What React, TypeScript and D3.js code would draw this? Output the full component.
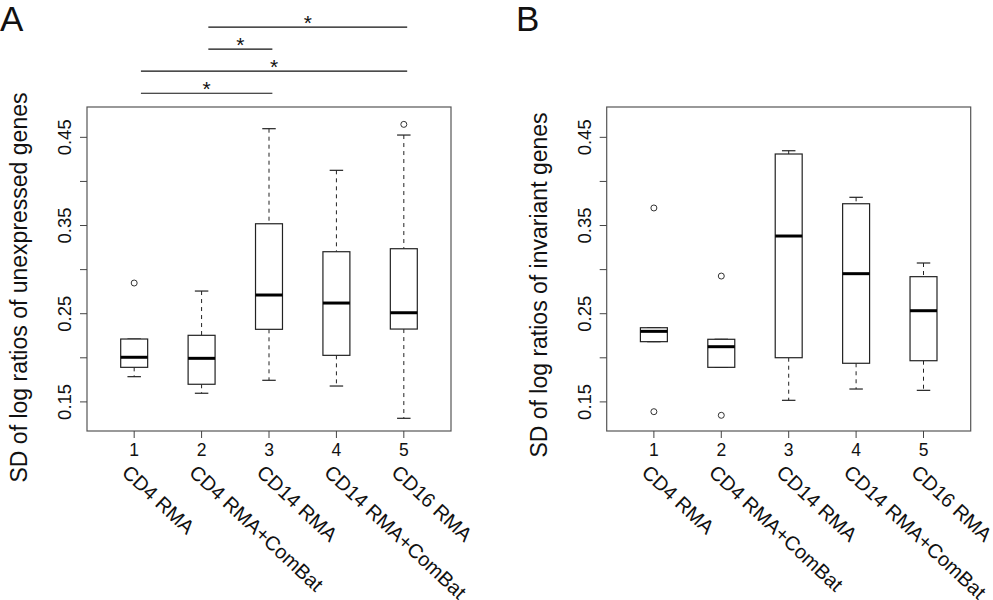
import React from "react";
import * as d3 from "d3";

// ---------- data ----------
const categories = ["CD4 RMA", "CD4 RMA+ComBat", "CD14 RMA", "CD14 RMA+ComBat", "CD16 RMA"];
const tickNumbers = ["1", "2", "3", "4", "5"];
const yTicks = [0.15, 0.2, 0.25, 0.3, 0.35, 0.4, 0.45];
const yTickLabels = ["0.15", "", "0.25", "", "0.35", "", "0.45"];

// Panel A: unexpressed genes
const lowA = [0.1786, 0.1598, 0.1745, 0.168, 0.1314];
const q1A = [0.1892, 0.17, 0.2323, 0.2028, 0.2326];
const medA = [0.2006, 0.1994, 0.2712, 0.2621, 0.2511];
const q3A = [0.2213, 0.2255, 0.352, 0.3203, 0.3237];
const highA = [0.2213, 0.2757, 0.4598, 0.4126, 0.4526];
const outliersA = [[0.2848], [], [], [], [0.4647]];

// Panel B: invariant genes
const lowB = [0.2183, 0.1892, 0.1518, 0.1646, 0.1631];
const q1B = [0.2183, 0.1892, 0.2001, 0.1938, 0.1967];
const medB = [0.23, 0.2126, 0.3381, 0.2954, 0.2534];
const q3B = [0.2341, 0.221, 0.4311, 0.3747, 0.292];
const highB = [0.2341, 0.221, 0.4348, 0.382, 0.3075];
const outliersB = [[0.3699, 0.1389], [0.2927, 0.1348], [], [], []];

// significance comparisons (panel A): group a vs group b, drawn at value level
const compFrom = [1, 1, 2, 2];
const compTo = [3, 5, 3, 5];
const compLevel = [0.5, 0.525, 0.55, 0.575];
const compLabel = ["*", "*", "*", "*"];

const FONT = "'Liberation Sans', Arial, Helvetica, sans-serif";

type PanelProps = {
  left: number;
  right: number;
  letter: string;
  letterX: number;
  title: string;
  titleX: number;
  titleY: number;
  low: number[];
  q1: number[];
  med: number[];
  q3: number[];
  high: number[];
  outliers: number[][];
  comps?: boolean;
};

function Panel(p: PanelProps) {
  const top = 107;
  const bottom = 431;
  const x = d3.scaleLinear().domain([0.3, 5.7]).range([p.left, p.right]);
  const y = d3.scaleLinear().domain([0.117, 0.4844]).range([bottom, top]);
  const bw = x(1.4) - x(1);
  const cw = bw / 2;
  const boxColor = "#222";
  return (
    <g fontFamily={FONT}>
      <text x={p.letterX} y={31} fontSize={35} fill="#111">{p.letter}</text>
      <text
        transform={`translate(${p.titleX},${p.titleY}) rotate(-90)`}
        textAnchor="middle"
        fontSize={23}
        fill="#111"
      >
        {p.title}
      </text>
      {/* frame */}
      <rect x={p.left} y={top} width={p.right - p.left} height={bottom - top} fill="none" stroke="#555" strokeWidth={1.2} />
      {/* y axis ticks */}
      {yTicks.map((t, i) => (
        <g key={"yt" + i}>
          <line x1={p.left - 7} x2={p.left} y1={y(t)} y2={y(t)} stroke="#444" strokeWidth={1} />
          {yTickLabels[i] && (
            <text
              transform={`translate(${p.left - 16},${y(t)}) rotate(-90)`}
              textAnchor="middle"
              fontSize={18.5}
              fill="#111"
            >
              {yTickLabels[i]}
            </text>
          )}
        </g>
      ))}
      {/* x axis ticks and labels */}
      {tickNumbers.map((lab, i) => (
        <g key={"xt" + i}>
          <line x1={x(i + 1)} x2={x(i + 1)} y1={bottom} y2={bottom + 7} stroke="#444" strokeWidth={1} />
          <text x={x(i + 1)} y={455.5} textAnchor="middle" fontSize={17.5} fill="#111">{lab}</text>
          <text
            transform={`translate(${x(i + 1) - 13.5},474) rotate(43)`}
            textAnchor="start"
            fontSize={20}
            fill="#111"
          >
            {categories[i]}
          </text>
        </g>
      ))}
      {/* boxes */}
      {categories.map((_, i) => {
        const cx = x(i + 1);
        return (
          <g key={"b" + i} stroke={boxColor} fill="none">
            <line x1={cx} x2={cx} y1={y(p.high[i])} y2={y(p.q3[i])} strokeDasharray="4,4" strokeWidth={1} />
            <line x1={cx} x2={cx} y1={y(p.q1[i])} y2={y(p.low[i])} strokeDasharray="4,4" strokeWidth={1} />
            <line x1={cx - cw / 2} x2={cx + cw / 2} y1={y(p.high[i])} y2={y(p.high[i])} strokeWidth={1.2} />
            <line x1={cx - cw / 2} x2={cx + cw / 2} y1={y(p.low[i])} y2={y(p.low[i])} strokeWidth={1.2} />
            <rect x={cx - bw / 2} y={y(p.q3[i])} width={bw} height={y(p.q1[i]) - y(p.q3[i])} fill="#fff" strokeWidth={1.2} />
            <line x1={cx - bw / 2} x2={cx + bw / 2} y1={y(p.med[i])} y2={y(p.med[i])} strokeWidth={3} stroke="#000" />
            {p.outliers[i].map((v, j) => (
              <circle key={j} cx={cx} cy={y(v)} r={3} strokeWidth={1} stroke="#333" fill="none" />
            ))}
          </g>
        );
      })}
      {/* significance bars */}
      {p.comps &&
        compFrom.map((a, i) => {
          const x1 = x(a + 0.1);
          const x2 = x(compTo[i] + 0.05);
          const yy = y(compLevel[i]);
          return (
            <g key={"c" + i}>
              <line x1={x1} x2={x2} y1={yy} y2={yy} stroke="#111" strokeWidth={1.2} />
              <text x={(x1 + x2) / 2} y={yy + 3} textAnchor="middle" fontSize={21} fill="#111">{compLabel[i]}</text>
            </g>
          );
        })}
    </g>
  );
}

export default function App() {
  return (
    <svg
      width={993}
      height={600}
      style={{ position: "absolute", left: 0, top: 0, background: "#fff" }}
    >
      <rect x={0} y={0} width={993} height={600} fill="#fff" />
      <Panel
        left={87}
        right={451}
        letter="A"
        letterX={0}
        title="SD of log ratios of unexpressed genes"
        titleX={27}
        titleY={287.5}
        low={lowA}
        q1={q1A}
        med={medA}
        q3={q3A}
        high={highA}
        outliers={outliersA}
        comps
      />
      <Panel
        left={606.7}
        right={970.7}
        letter="B"
        letterX={516}
        title="SD of log ratios of invariant genes"
        titleX={547}
        titleY={285}
        low={lowB}
        q1={q1B}
        med={medB}
        q3={q3B}
        high={highB}
        outliers={outliersB}
      />
    </svg>
  );
}
